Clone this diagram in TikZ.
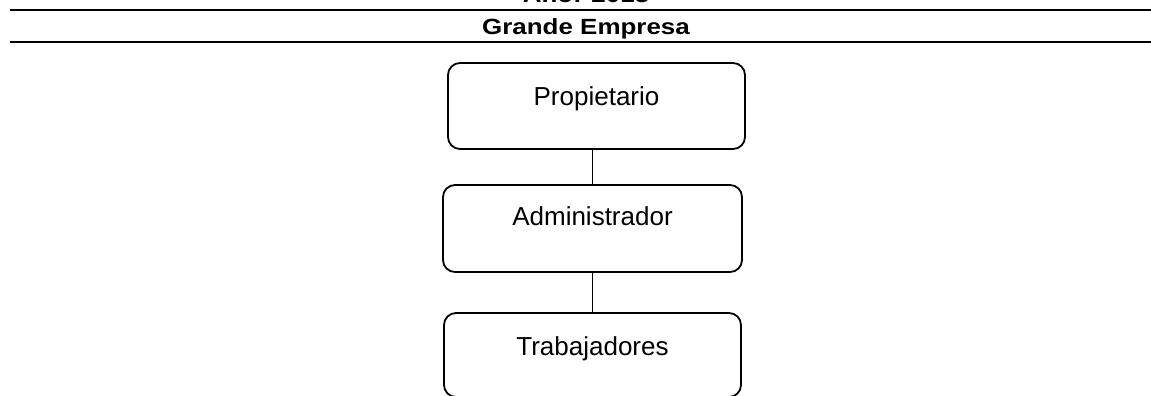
\documentclass[tikz,border=0pt]{standalone}
\usepackage{fontspec}
\usepackage{graphicx}
\setmainfont{Liberation Sans}
\begin{document}
\begin{tikzpicture}[x=1pt,y=-1pt,
  rule/.style={line width=2.4pt},
  titletext/.style={inner sep=0pt,anchor=base,font=\fontsize{22}{26}\selectfont\bfseries},
  orgbox/.style={draw,line width=1.8pt,rounded corners=12pt,inner sep=0pt,anchor=base,
    align=center,font=\fontsize{26}{31}\selectfont},
  link/.style={line width=0.8pt}]
\useasboundingbox (0,0) rectangle (1151,396);
% header rules
\draw[rule] (10,10) -- (1151,10);
\draw[rule] (10,42) -- (1151,42);
\node[titletext] (year) at (586,3) {\scalebox{1.18}[1]{Año: 2013}};
\node[titletext] (title) at (586,35) {\scalebox{1.18}[1]{Grande Empresa}};
% boxes
\node[orgbox,text width=297pt,text height=42pt,text depth=44pt] (P) at (596.5,105) {Propietario};
\node[orgbox,text width=299pt,text height=40pt,text depth=47pt] (A) at (592.5,225) {Administrador};
\node[orgbox,text width=297pt,text height=42pt,text depth=42pt] (T) at (592.5,355) {Trabajadores};
% connectors
\draw[link] (A.north |- P.south) -- (A.north);
\draw[link] (A.south) -- (T.north);
\end{tikzpicture}
\end{document}
